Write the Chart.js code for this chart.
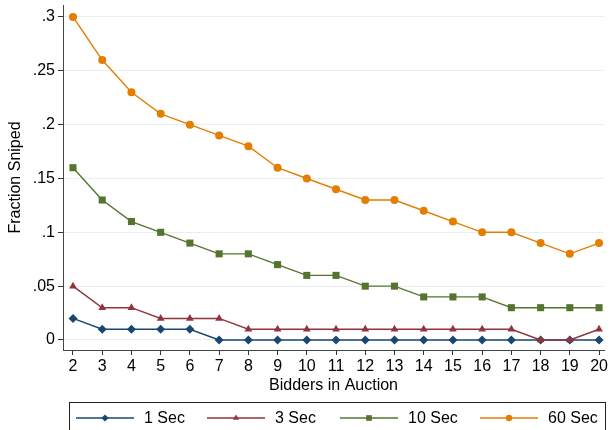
<!DOCTYPE html>
<html>
<head>
<meta charset="utf-8">
<script src="https://cdn.jsdelivr.net/npm/chart.js@4.4.0/dist/chart.umd.min.js"></script>
<style>
  html, body { margin: 0; padding: 0; background: #fff; }
  #wrap { width: 610px; height: 430px; position: relative; }
</style>
</head>
<body>
<div id="wrap"><canvas id="chart" width="610" height="430"></canvas></div>
<script>
// data
const bidders = [2, 3, 4, 5, 6, 7, 8, 9, 10, 11, 12, 13, 14, 15, 16, 17, 18, 19, 20];
const sec1  = [.02, .01, .01, .01, .01, 0, 0, 0, 0, 0, 0, 0, 0, 0, 0, 0, 0, 0, 0];
const sec3  = [.05, .03, .03, .02, .02, .02, .01, .01, .01, .01, .01, .01, .01, .01, .01, .01, 0, 0, .01];
const sec10 = [.16, .13, .11, .10, .09, .08, .08, .07, .06, .06, .05, .05, .04, .04, .04, .03, .03, .03, .03];
const sec60 = [.30, .26, .23, .21, .20, .19, .18, .16, .15, .14, .13, .13, .12, .11, .10, .10, .09, .08, .09];
const yTicks = [0, .05, .1, .15, .2, .25, .3];
const yTickLabels = ['0', '.05', '.1', '.15', '.2', '.25', '.3'];
const seriesNames = ['1 Sec', '3 Sec', '10 Sec', '60 Sec'];

const colors = ['#1a476f', '#90353b', '#55752f', '#e37e00'];
const styles = ['rectRot', 'triangle', 'rect', 'circle'];
const radii = [4.5, 4.5, 5, 4];

function pts(vals) {
  return vals.map((v, i) => ({ x: bidders[i], y: v }));
}

const allSeries = [sec1, sec3, sec10, sec60];
const datasets = allSeries.map((s, i) => ({
  label: seriesNames[i],
  data: pts(s),
  borderColor: colors[i],
  backgroundColor: colors[i],
  borderWidth: 1.4,
  pointStyle: styles[i],
  pointRadius: radii[i],
  pointBorderWidth: 0,
  pointHoverRadius: radii[i],
  order: 4 - i
}));

const FONT = '"Liberation Sans", Arial, sans-serif';

// legend box under the plot, stata style
const legendBox = {
  id: 'legendBox',
  afterDraw(chart) {
    const ctx = chart.ctx;
    ctx.save();
    ctx.strokeStyle = '#222';
    ctx.lineWidth = 1;
    ctx.strokeRect(69.5, 402.5, 536, 40);
    const starts = [76, 207, 340, 480];
    const yy = 418;
    seriesNames.forEach((name, i) => {
      const x0 = starts[i];
      ctx.strokeStyle = colors[i];
      ctx.fillStyle = colors[i];
      ctx.lineWidth = 1.4;
      ctx.beginPath();
      ctx.moveTo(x0, yy);
      ctx.lineTo(x0 + 58, yy);
      ctx.stroke();
      const cx = x0 + 29;
      const r = radii[i] * 0.8;
      ctx.beginPath();
      if (styles[i] === 'rectRot') {
        ctx.moveTo(cx, yy - r); ctx.lineTo(cx + r, yy); ctx.lineTo(cx, yy + r); ctx.lineTo(cx - r, yy);
      } else if (styles[i] === 'triangle') {
        ctx.moveTo(cx, yy - r); ctx.lineTo(cx + r * 0.87, yy + r * 0.5); ctx.lineTo(cx - r * 0.87, yy + r * 0.5);
      } else if (styles[i] === 'rect') {
        const s = r * 0.71;
        ctx.rect(cx - s, yy - s, 2 * s, 2 * s);
      } else {
        ctx.arc(cx, yy, r, 0, Math.PI * 2);
      }
      ctx.closePath();
      ctx.fill();
      ctx.fillStyle = '#000';
      ctx.font = '16px ' + FONT;
      ctx.textBaseline = 'middle';
      ctx.textAlign = 'left';
      ctx.fillText(name, x0 + 68, yy + 1);
    });
    ctx.restore();
  }
};

new Chart(document.getElementById('chart'), {
  type: 'line',
  data: { datasets: datasets },
  plugins: [legendBox],
  options: {
    responsive: false,
    animation: false,
    layout: { padding: { top: 5, right: 0, bottom: 35, left: 0 } },
    plugins: { legend: { display: false }, tooltip: { enabled: false } },
    scales: {
      x: {
        type: 'linear',
        min: 1.658,
        max: 20.17,
        afterBuildTicks(axis) { axis.ticks = bidders.map(v => ({ value: v })); },
        afterFit(axis) { axis.height = 45; },
        grid: { drawOnChartArea: false, tickLength: 5, color: '#333', tickColor: '#333' },
        border: { color: '#444', width: 1 },
        ticks: { color: '#000', font: { size: 16, family: FONT }, padding: 2, maxRotation: 0, autoSkip: false },
        title: { display: true, text: 'Bidders in Auction', color: '#000', font: { size: 16, family: FONT }, padding: { top: 0, bottom: 0 } }
      },
      y: {
        min: -0.00929,
        max: 0.3111,
        afterBuildTicks(axis) { axis.ticks = yTicks.map(v => ({ value: v })); },
        afterFit(axis) { axis.width = 63; axis.paddingTop = 0; axis.paddingBottom = 0; },
        grid: { color: '#e8eff2', tickColor: '#333', tickLength: 5, lineWidth: 1 },
        border: { color: '#444', width: 1 },
        ticks: {
          color: '#000',
          font: { size: 16, family: FONT },
          padding: 3,
          callback(value) {
            const k = yTicks.findIndex(t => Math.abs(t - value) < 1e-9);
            return k >= 0 ? yTickLabels[k] : '';
          }
        },
        title: { display: true, text: 'Fraction Sniped', color: '#000', font: { size: 16, family: FONT }, padding: { top: 6, bottom: 2 } }
      }
    }
  }
});
</script>
</body>
</html>
